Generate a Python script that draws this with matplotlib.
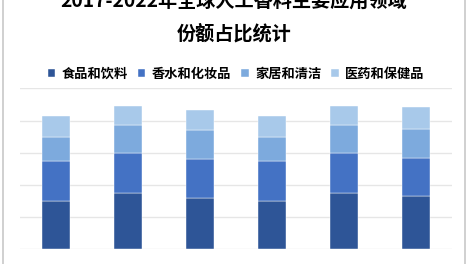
import matplotlib
matplotlib.use("Agg")
import matplotlib.pyplot as plt
from matplotlib.lines import Line2D
import numpy as np

plt.rcParams['font.family'] = ['Noto Sans CJK SC', 'DejaVu Sans']

years = ['2017', '2018', '2019', '2020', '2021', '2022']
series_names = ['食品和饮料', '香水和化妆品', '家居和清洁', '医药和保健品']
food = [14.9, 17.4, 15.8, 15.0, 17.4, 16.5]
perfume = [12.5, 12.6, 12.1, 12.4, 12.6, 12.0]
home = [7.5, 8.5, 9.0, 7.5, 8.5, 9.0]
medical = [6.6, 6.0, 6.5, 6.6, 6.0, 6.6]
colors = ['#2E5597', '#4472C4', '#7DAADD', '#A8C9EA']

fig = plt.figure(figsize=(4.68, 2.64), dpi=100)
ax = fig.add_axes([20/468, (264-249.3)/264, 432/468, 161/264])

x = np.arange(len(years))
bottom = np.zeros(len(years))
handles = []
for vals, name, c in zip([food, perfume, home, medical], series_names, colors):
    b = ax.bar(x, vals, width=0.4, bottom=bottom, color=c, label=name,
               edgecolor='white', linewidth=0.3, zorder=3)
    bottom += np.array(vals)
    handles.append(b)

ax.set_xlim(-0.5, 5.5)
ax.set_ylim(0, 50)
ax.set_yticks([0, 10, 20, 30, 40, 50])
ax.yaxis.grid(True, color='#E6E6E6', linewidth=1.0, zorder=0)
ax.set_yticklabels([])
ax.tick_params(axis='y', length=0)
ax.set_xticks(x)
ax.set_xticklabels(years, fontsize=9.5, fontweight='bold', family=['Liberation Serif'])
ax.tick_params(axis='x', length=0, pad=10)
for s in ax.spines.values():
    s.set_visible(False)

fig.text(0.5, 1 - 1/264, '2017-2022年全球人工香料主要应用领域', ha='center', va='center',
         fontsize=13.8, fontweight='bold')
fig.text(0.5, 1 - 33.5/264, '份额占比统计', ha='center', va='center', fontsize=13.8,
         fontweight='bold')

leg = fig.legend(handles=handles, labels=series_names, loc='center',
                 bbox_to_anchor=(0.505, 1 - 74/264), ncol=4, frameon=False,
                 handlelength=0.55, handleheight=0.55, handletextpad=0.5,
                 columnspacing=0.75, prop={'weight': 'bold', 'size': 9.5})

fig.add_artist(Line2D([2.5/468, 2.5/468], [0, 1], transform=fig.transFigure,
                      color='#C8C8C8', linewidth=1.2))
fig.add_artist(Line2D([465/468, 465/468], [0, 1], transform=fig.transFigure,
                      color='#C8C8C8', linewidth=1.2))

fig.savefig('out.png', dpi=100)
